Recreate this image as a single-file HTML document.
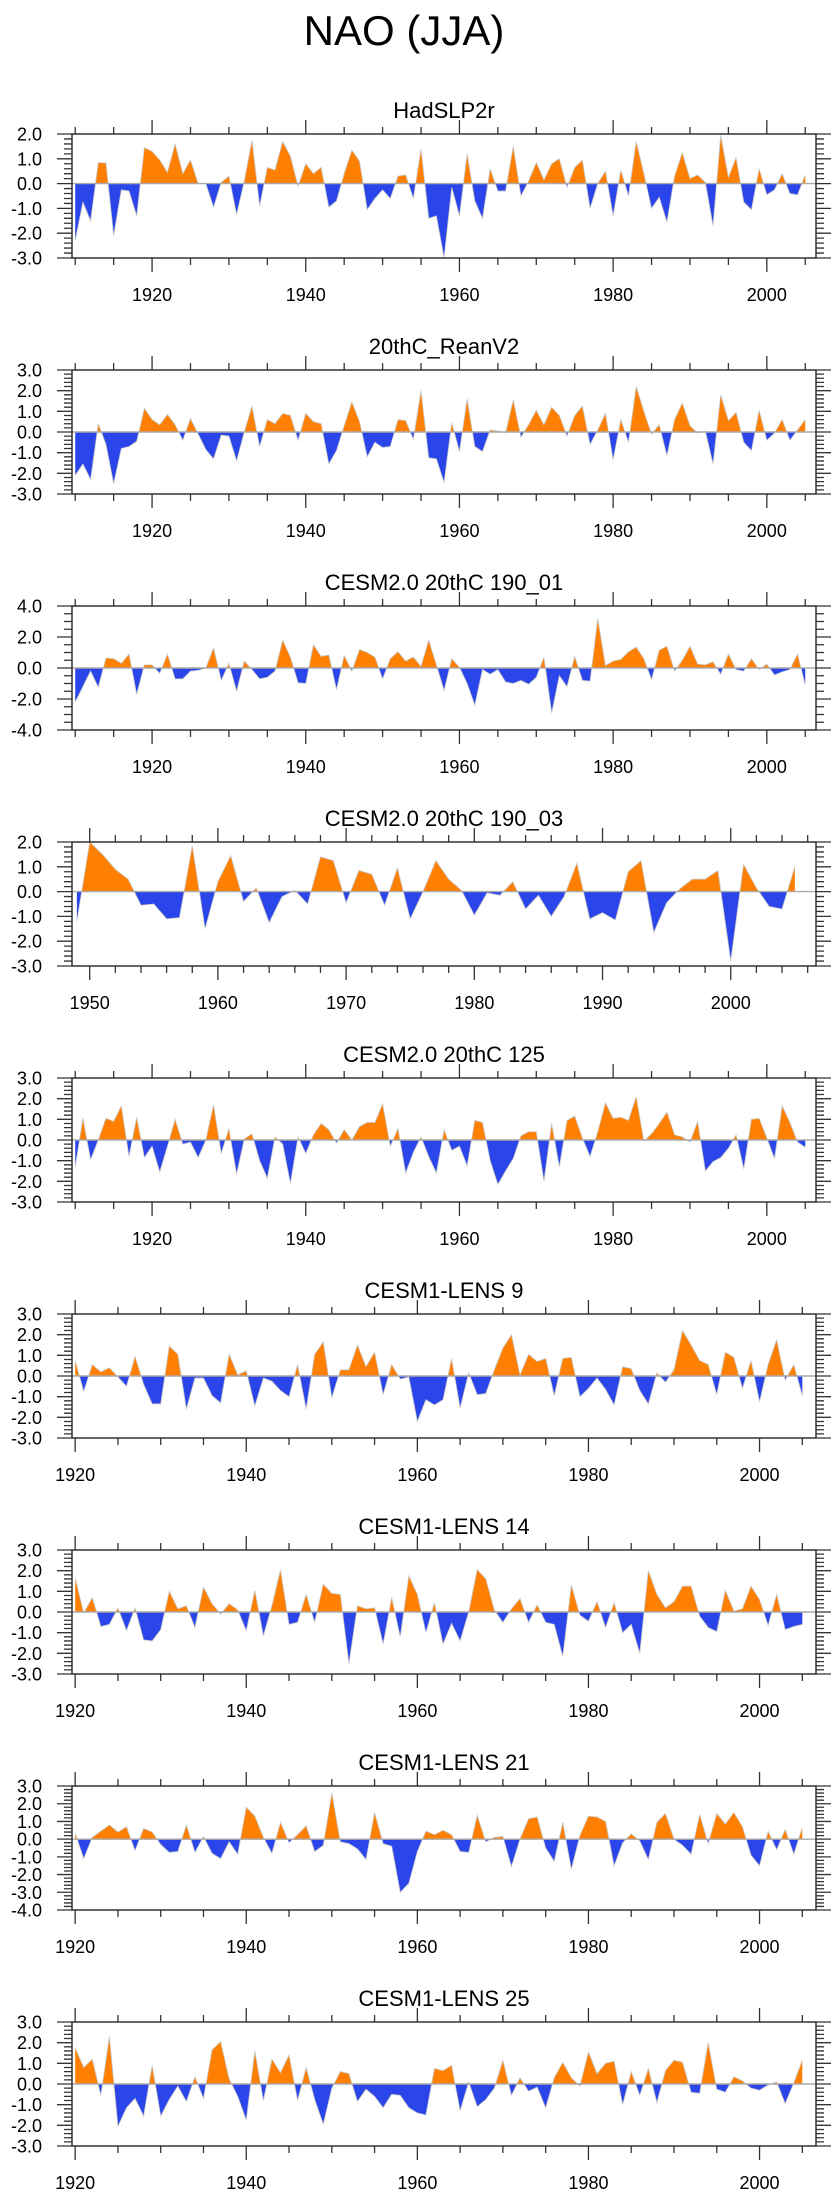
<!DOCTYPE html>
<html><head><meta charset="utf-8"><title>NAO (JJA)</title>
<style>
html,body{margin:0;padding:0;background:#fff;}
svg{display:block;font-family:"Liberation Sans",Arial,sans-serif;}
</style></head>
<body>
<svg id="fig" width="840" height="2200" viewBox="0 0 840 2200" xmlns="http://www.w3.org/2000/svg">
<text x="404" y="45" font-size="42" text-anchor="middle" fill="#000">NAO (JJA)</text>
</svg>
<script>
const titles = ["HadSLP2r","20thC_ReanV2","CESM2.0 20thC 190_01","CESM2.0 20thC 190_03","CESM2.0 20thC 125","CESM1-LENS 9","CESM1-LENS 14","CESM1-LENS 21","CESM1-LENS 25"];
const startYears = [1910,1910,1910,1949,1910,1920,1920,1920,1920];
const yMins = [-3,-3,-4,-3,-3,-3,-3,-4,-3];
const yMaxs = [2,3,4,2,3,3,3,3,3];
const ySteps = [1,1,2,1,1,1,1,1,1];
const xMins = [1909.58,1909.58,1909.58,1948.62,1909.58,1919.63,1919.63,1919.63,1919.63];
const xMaxs = [2006.4,2006.4,2006.4,2006.65,2006.4,2006.6,2006.6,2006.6,2006.6];
const xMajorStep = [20,20,20,10,20,20,20,20,20];
const xMinorStep = [5,5,5,2,5,5,5,5,5];
const xTickStart = [1910,1910,1910,1950,1910,1920,1920,1920,1920];

const s1 = [-2.3,-0.75,-1.5,0.85,0.83,-2.1,-0.25,-0.3,-1.3,1.45,1.3,0.95,0.45,1.6,0.4,0.95,0.0,0.0,-0.95,0.05,0.3,-1.25,0.1,1.75,-0.9,0.65,0.55,1.7,1.1,-0.1,0.8,0.4,0.65,-0.95,-0.7,0.4,1.35,0.9,-1.05,-0.6,-0.25,-0.6,0.3,0.35,-0.6,1.4,-1.4,-1.3,-3.0,-0.15,-1.3,1.2,-0.7,-1.4,0.6,-0.3,-0.3,1.5,-0.5,0.1,0.85,0.15,0.8,1.0,-0.15,0.65,0.95,-1.0,0.0,0.5,-1.3,0.55,-0.5,1.7,0.4,-1.0,-0.55,-1.55,0.3,1.25,0.2,0.35,0.05,-1.7,1.95,0.25,1.05,-0.75,-1.05,0.6,-0.45,-0.25,0.4,-0.4,-0.45,0.35];
const s2 = [-2.1,-1.55,-2.3,0.4,-0.6,-2.5,-0.8,-0.7,-0.45,1.15,0.6,0.35,0.85,0.35,-0.4,0.65,-0.1,-0.85,-1.3,-0.15,-0.2,-1.4,0.0,1.25,-0.7,0.6,0.4,0.9,0.8,-0.4,0.9,0.5,0.4,-1.55,-0.9,0.3,1.45,0.5,-1.2,-0.5,-0.75,-0.7,0.6,0.55,-0.35,2.0,-1.25,-1.3,-2.45,0.45,-0.95,1.6,-0.7,-0.95,0.1,0.05,-0.05,1.55,-0.25,0.35,1.05,0.35,1.2,0.8,-0.2,0.8,1.25,-0.6,0.1,0.9,-1.35,0.6,-0.5,2.2,1.0,-0.1,0.35,-1.15,0.6,1.4,0.3,-0.05,0.05,-1.55,1.8,0.55,0.95,-0.5,-0.9,1.05,-0.4,-0.05,0.6,-0.4,0.1,0.6];
const s3 = [-2.2,-1.2,-0.2,-1.25,0.65,0.6,0.3,0.9,-1.7,0.2,0.2,-0.35,0.9,-0.7,-0.7,-0.2,-0.15,0.0,1.3,-0.8,0.3,-1.5,0.45,-0.1,-0.7,-0.6,-0.2,1.8,0.7,-0.95,-1.0,1.5,0.75,0.85,-1.4,0.8,-0.2,1.2,1.0,0.7,-0.7,0.6,1.05,0.45,0.7,0.1,1.8,0.2,-1.45,0.6,0.05,-1.0,-2.4,-0.1,-0.4,-0.1,-0.9,-1.0,-0.8,-1.05,-0.6,0.7,-2.9,-0.5,-1.2,0.75,-0.8,-0.85,3.2,0.15,0.45,0.55,1.05,1.35,0.6,-0.75,1.15,1.4,-0.2,0.5,1.4,0.25,0.2,0.4,-0.4,0.9,-0.1,-0.2,0.6,-0.1,0.25,-0.45,-0.25,-0.1,0.9,-1.1];
const s4 = [-1.2,2.0,1.5,0.9,0.5,-0.55,-0.5,-1.1,-1.05,1.85,-1.5,0.4,1.45,-0.4,0.15,-1.25,-0.2,0.05,-0.5,1.4,1.25,-0.45,0.85,0.7,-0.55,0.95,-1.1,0.0,1.25,0.5,0.05,-0.95,-0.05,-0.15,0.4,-0.7,-0.15,-1.0,-0.2,1.15,-1.1,-0.85,-1.15,0.8,1.25,-1.65,-0.45,0.1,0.5,0.5,0.85,-2.8,1.1,0.15,-0.6,-0.7,1.0];
const s5 = [-1.3,1.05,-0.95,0.0,1.05,0.9,1.65,-0.8,1.1,-0.85,-0.3,-1.55,-0.3,1.0,-0.2,-0.1,-0.85,0.0,1.7,-0.65,0.55,-1.65,0.05,0.3,-1.0,-1.85,0.15,-0.2,-2.1,0.15,-0.65,0.25,0.8,0.5,-0.15,0.5,0.0,0.65,0.85,0.85,1.75,-0.3,0.55,-1.6,-0.6,0.15,-0.8,-1.6,0.5,-0.5,-0.3,-1.25,0.95,0.85,-1.0,-2.15,-1.5,-0.9,0.2,0.4,0.4,-2.0,0.8,-1.3,0.95,1.15,0.1,-0.8,0.4,1.8,1.05,1.1,0.95,2.1,-0.05,0.3,0.8,1.35,0.25,0.15,-0.1,0.9,-1.5,-1.05,-0.85,-0.4,0.25,-1.4,1.0,1.05,0.1,-0.9,1.65,0.85,-0.1,-0.35];
const s6 = [0.75,-0.75,0.55,0.2,0.4,-0.05,-0.5,0.95,-0.4,-1.35,-1.35,1.45,1.05,-1.6,-0.1,-0.1,-0.95,-1.3,1.05,0.05,0.25,-1.45,-0.1,-0.25,-0.7,-1.0,0.55,-1.6,1.05,1.65,-1.05,0.3,0.3,1.5,0.45,1.15,-0.9,0.55,-0.15,-0.05,-2.2,-1.15,-1.4,-1.15,0.85,-1.55,0.15,-0.9,-0.85,0.3,1.35,2.0,0.05,1.05,0.7,0.85,-0.95,0.85,0.9,-1.0,-0.6,-0.1,-0.65,-1.4,0.45,0.35,-0.7,-1.35,0.15,-0.3,0.3,2.2,1.5,0.75,0.55,-0.9,1.15,0.9,-0.6,0.75,-1.25,0.55,1.75,-0.2,0.55,-0.95];
const s7 = [1.65,-0.05,0.7,-0.7,-0.6,0.2,-0.9,0.2,-1.35,-1.4,-0.85,1.0,0.15,0.3,-0.75,1.2,0.4,-0.1,0.4,0.1,-0.9,1.05,-1.15,0.3,2.05,-0.6,-0.5,0.85,-0.5,1.35,0.9,0.85,-2.5,0.3,0.15,0.2,-1.55,0.7,-1.2,1.75,0.85,-1.0,0.45,-1.55,-0.55,-1.4,0.0,2.05,1.6,0.1,-0.5,0.15,0.65,-0.5,0.35,-0.5,-0.6,-2.15,1.3,-0.15,-0.45,0.5,-0.75,0.45,-1.0,-0.6,-2.0,2.0,0.85,0.2,0.5,1.25,1.25,-0.2,-0.75,-0.95,1.05,0.05,0.15,1.25,0.6,-0.65,0.85,-0.85,-0.7,-0.6];
const s8 = [0.35,-1.1,0.1,0.45,0.8,0.4,0.7,-0.65,0.6,0.4,-0.3,-0.75,-0.7,0.8,-0.75,0.15,-0.8,-1.1,-0.15,-0.85,1.8,1.3,0.1,-0.8,0.95,-0.2,0.25,0.75,-0.7,-0.35,2.6,-0.15,-0.25,-0.55,-1.15,1.5,-0.25,-0.4,-3.0,-2.5,-0.7,0.45,0.25,0.5,0.25,-0.7,-0.75,1.35,-0.15,0.1,0.15,-1.55,0.0,1.15,1.25,-0.5,-1.25,0.95,-1.7,0.2,1.3,1.25,1.0,-1.5,-0.2,0.3,-0.1,-1.15,0.95,1.45,0.0,-0.35,-0.85,1.4,-0.25,1.45,0.85,1.5,0.7,-0.9,-1.5,0.45,-0.6,0.55,-0.85,0.65];
const s9 = [1.75,0.8,1.2,-0.55,2.3,-2.05,-1.15,-0.7,-1.55,0.9,-1.55,-0.75,-0.1,-0.85,0.35,-0.7,1.65,2.05,0.25,-0.6,-1.75,1.6,-0.8,1.2,0.55,1.4,-0.8,0.8,-0.75,-1.95,-0.2,0.6,0.5,-0.85,-0.25,-0.6,-1.15,-0.5,-0.55,-1.15,-1.4,-1.5,0.75,0.65,0.9,-1.3,0.1,-1.1,-0.75,-0.2,1.15,-0.55,0.3,-0.35,-0.15,-1.15,0.3,1.05,0.3,-0.1,1.55,0.5,1.0,1.1,-1.0,0.6,-0.55,0.75,-0.9,0.65,1.15,1.05,-0.4,-0.45,2.0,-0.25,-0.4,0.35,0.15,-0.2,-0.3,-0.05,0.1,-0.95,0.05,1.15];
const series = [s1,s2,s3,s4,s5,s6,s7,s8,s9];

const NS = "http://www.w3.org/2000/svg";
const svg = document.getElementById('fig');
const L = 72, R = 816, H = 124, TOP0 = 134, GAP = 236;
function mk(tag, attrs, parent){
  const e = document.createElementNS(NS, tag);
  for (const k in attrs) e.setAttribute(k, attrs[k]);
  (parent||svg).appendChild(e);
  return e;
}
series.forEach((vals, p) => {
  const top = TOP0 + GAP*p, bot = top + H;
  const g = mk('g', {});
  
  
  const xs = yr => L + (yr - xMins[p]) / (xMaxs[p] - xMins[p]) * (R - L);
  const ys = v => bot - (v - yMins[p]) / (yMaxs[p] - yMins[p]) * H;
  const y0 = ys(0);
  // title
  const t = mk('text', {x:(L+R)/2, y: top-16, 'font-size':22, 'text-anchor':'middle', fill:'#000'}, g);
  t.textContent = titles[p];
  
  
  // clip paths
  const defs = mk('defs', {}, g);
  const cpA = mk('clipPath', {id:'ca'+p}, defs);
  mk('rect', {x:L, y:top, width:R-L, height:y0-top}, cpA);
  const cpB = mk('clipPath', {id:'cb'+p}, defs);
  mk('rect', {x:L, y:y0, width:R-L, height:bot-y0}, cpB);
  let d = 'M' + xs(startYears[p]).toFixed(2) + ',' + y0.toFixed(2);
  let line = '';
  vals.forEach((v, i) => {
    const x = xs(startYears[p] + i).toFixed(2), y = ys(v).toFixed(2);
    d += 'L' + x + ',' + y;
    line += (i ? 'L' : 'M') + x + ',' + y;
  });
  d += 'L' + xs(startYears[p] + vals.length - 1).toFixed(2) + ',' + y0.toFixed(2) + 'Z';
  const pos = mk('path', {d: d, fill:'#ff8000', 'clip-path':'url(#ca'+p+')'}, g);
  
  
  const neg = mk('path', {d: d, fill:'#2a45ea', 'clip-path':'url(#cb'+p+')'}, g);
  
  
  const ln = mk('path', {d: line, fill:'none', stroke:'#c8c8c8', 'stroke-width':0.8}, g);
  
  
  const zl = mk('line', {x1:L, x2:R, y1:y0, y2:y0, stroke:'#aaaaaa', 'stroke-width':1.4}, g);
  
  
  // frame
  const fr = mk('rect', {x:L, y:top, width:R-L, height:H, fill:'none', stroke:'#222', 'stroke-width':1.4}, g);
  
  
  // y ticks
  const minorY = ySteps[p] === 2 ? 0.5 : 0.2;
  const ny = Math.round((yMaxs[p]-yMins[p])/minorY);
  let tk = '';
  for (let i = 0; i <= ny; i++) {
    const v = yMins[p] + i*minorY;
    const y = ys(v);
    const major = Math.abs(v/ySteps[p] - Math.round(v/ySteps[p])) < 1e-6;
    const len = major ? 15 : 8;
    tk += `M${L},${y}h${-len}M${R},${y}h${len}`;
  }
  for (let yr = xTickStart[p]; yr <= xMaxs[p]; yr += xMinorStep[p]) {
    const x = xs(yr);
    const major = ((yr - (p===3?1950:1920)) % xMajorStep[p] === 0);
    const len = major ? 14 : 7;
    tk += `M${x},${top}v${-len}M${x},${bot}v${len}`;
  }
  const ticks = mk('path', {d: tk, stroke:'#333', 'stroke-width':1.3, fill:'none'}, g);
  
  
  for (let v = yMins[p]; v <= yMaxs[p] + 1e-6; v += ySteps[p]) {
    const tl = mk('text', {x:42, y: ys(v)+6.5, 'font-size':18, 'text-anchor':'end', fill:'#000'}, g);
    tl.textContent = v.toFixed(1);
    
    
  }
  const firstMajor = p === 3 ? 1950 : 1920;
  for (let yr = firstMajor; yr <= xMaxs[p]; yr += xMajorStep[p]) {
    const tl = mk('text', {x: xs(yr), y: bot+43, 'font-size':18, 'text-anchor':'middle', fill:'#000'}, g);
    tl.textContent = yr;
    
    
  }
});
</script>
</body></html>
